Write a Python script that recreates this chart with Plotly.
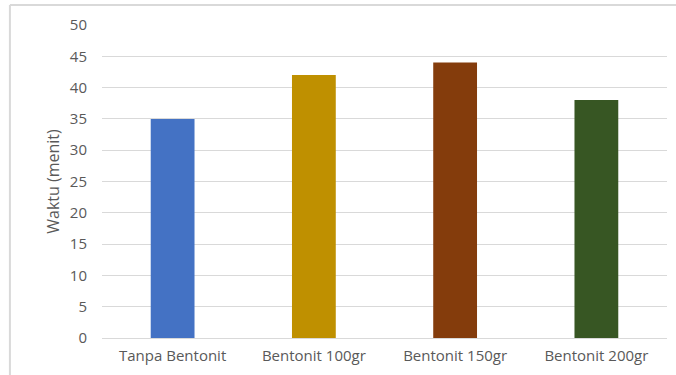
import plotly.graph_objects as go

categories = ["Tanpa Bentonit", "Bentonit 100gr", "Bentonit 150gr", "Bentonit 200gr"]
waktu = [35, 42, 44, 38]
bar_colors = ["#4472C4", "#BF9000", "#843C0C", "#375623"]
y_ticks = [0, 5, 10, 15, 20, 25, 30, 35, 40, 45, 50]

font_family = "Open Sans, sans-serif"

fig = go.Figure(
    go.Bar(
        x=categories,
        y=waktu,
        marker=dict(color=bar_colors, line=dict(width=0)),
        width=0.31,
    )
)

fig.update_layout(
    width=676,
    height=375,
    margin=dict(l=102, r=9, t=25, b=37),
    paper_bgcolor="white",
    plot_bgcolor="white",
    showlegend=False,
    font=dict(family=font_family, size=13, color="#595959"),
    xaxis=dict(
        showgrid=False,
        showline=False,
        ticks="",
        ticklabelstandoff=7,
        tickfont=dict(size=15, color="#595959"),
    ),
    yaxis=dict(
        range=[0, 50],
        tickvals=y_ticks,
        showgrid=True,
        gridcolor="#D9D9D9",
        gridwidth=1,
        zeroline=True,
        zerolinecolor="#D9D9D9",
        zerolinewidth=1,
        ticks="",
        ticklabelstandoff=14,
        tickfont=dict(size=15, color="#595959"),
        title=dict(text="Waktu (menit)", font=dict(size=16, color="#595959"), standoff=6),
    ),
)

# Chart-area border along the top and left edges
fig.add_shape(type="line", xref="paper", yref="paper", x0=-0.163, x1=1.02, y0=1.064, y1=1.064,
              line=dict(color="#D9D9D9", width=2))
fig.add_shape(type="line", xref="paper", yref="paper", x0=-0.163, x1=-0.163, y0=1.064, y1=-0.2,
              line=dict(color="#D9D9D9", width=2))

fig.write_html("out.html")
